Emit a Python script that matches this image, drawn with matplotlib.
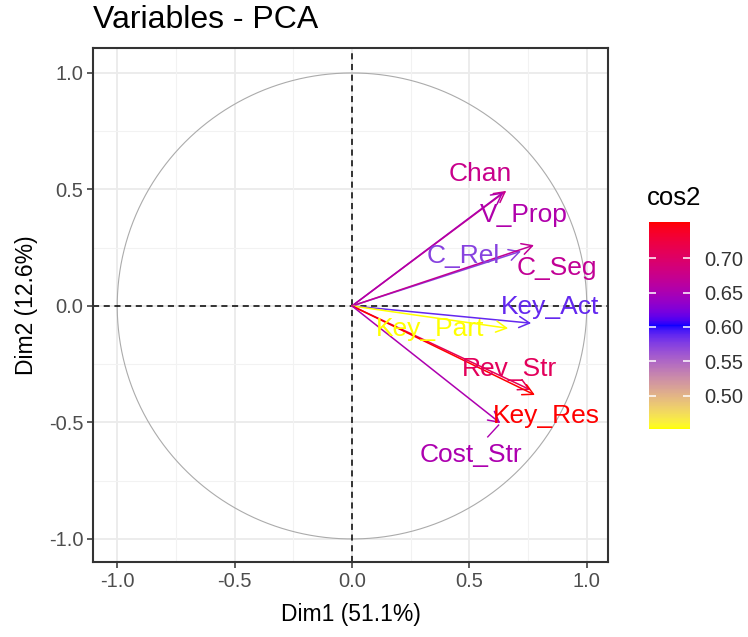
import numpy as np
import matplotlib
matplotlib.use("Agg")
import matplotlib.pyplot as plt
from matplotlib.colors import ListedColormap, Normalize
from matplotlib.cm import ScalarMappable

plt.rcParams['font.family'] = ['Liberation Sans', 'DejaVu Sans']

# coordonnées des variables sur Dim1 / Dim2
variables = ["Chan", "V_Prop", "C_Rel", "C_Seg", "Key_Act", "Key_Part", "Rev_Str", "Key_Res", "Cost_Str"]
dim1 = np.array([0.657, 0.645, 0.720, 0.775, 0.763, 0.665, 0.760, 0.779, 0.632])
dim2 = np.array([0.494, 0.488, 0.235, 0.261, -0.074, -0.096, -0.360, -0.382, -0.503])
cos2 = dim1**2 + dim2**2

cb_ticks = [0.50, 0.55, 0.60, 0.65, 0.70]
axis_ticks = [-1.0, -0.5, 0.0, 0.5, 1.0]

# position des étiquettes (placement type ggrepel)
label_pos = [(0.545, 0.567), (0.730, 0.390), (0.474, 0.215), (0.872, 0.162),
             (0.843, -0.003), (0.332, -0.099), (0.669, -0.270), (0.830, -0.472),
             (0.507, -0.640)]


# gradient jaune -> bleu -> rouge interpolé dans l'espace Lab (comme ggplot)
white = np.array([0.95047, 1.0, 1.08883])
M = np.array([[0.4124, 0.3576, 0.1805], [0.2126, 0.7152, 0.0722], [0.0193, 0.1192, 0.9505]])


def rgb2lab(rgb):
    c = np.array(rgb, dtype=float)
    lin = np.where(c <= 0.04045, c / 12.92, ((c + 0.055) / 1.055) ** 2.4)
    xyz = M @ lin / white
    f = np.where(xyz > 0.008856, np.cbrt(xyz), 7.787 * xyz + 16 / 116)
    return np.array([116 * f[1] - 16, 500 * (f[0] - f[1]), 200 * (f[1] - f[2])])


def lab2rgb(lab):
    fy = (lab[0] + 16) / 116
    f = np.array([fy + lab[1] / 500, fy, fy - lab[2] / 200])
    xyz = np.where(f**3 > 0.008856, f**3, (f - 16 / 116) / 7.787) * white
    lin = np.linalg.solve(M, xyz)
    lin = np.clip(lin, 0, 1)
    c = np.where(lin <= 0.0031308, 12.92 * lin, 1.055 * lin ** (1 / 2.4) - 0.055)
    return np.clip(c, 0, 1)


stops = [rgb2lab(c) for c in [(1, 1, 0), (0, 0, 1), (1, 0, 0)]]
cols = []
for t in np.linspace(0, 1, 256):
    if t < 0.5:
        s = t * 2
        lab = stops[0] * (1 - s) + stops[1] * s
    else:
        s = (t - 0.5) * 2
        lab = stops[1] * (1 - s) + stops[2] * s
    cols.append(lab2rgb(lab))
cmap = ListedColormap(cols)
norm = Normalize(vmin=cos2.min(), vmax=cos2.max())

fig = plt.figure(figsize=(7.48, 6.37), dpi=100)
ax = fig.add_axes([0.1247, 0.1177, 0.6877, 0.8069])

# grille
for v in [-1.0, -0.5, 0.0, 0.5, 1.0]:
    ax.axvline(v, color='#EBEBEB', lw=1.3, zorder=0)
    ax.axhline(v, color='#EBEBEB', lw=1.3, zorder=0)
for v in [-0.75, -0.25, 0.25, 0.75]:
    ax.axvline(v, color='#F2F2F2', lw=0.8, zorder=0)
    ax.axhline(v, color='#F2F2F2', lw=0.8, zorder=0)

theta = np.linspace(0, 2 * np.pi, 400)
ax.plot(np.cos(theta), np.sin(theta), color='#ABABAB', lw=0.8, zorder=1)
ax.axhline(0, color='black', ls=(0, (4, 3)), lw=1.1, zorder=2)
ax.axvline(0, color='black', ls=(0, (4, 3)), lw=1.1, zorder=2)

for i, name in enumerate(variables):
    c = cmap(norm(cos2[i]))
    ax.annotate('', xy=(dim1[i], dim2[i]), xytext=(0, 0),
                arrowprops=dict(arrowstyle='->,head_length=0.75,head_width=0.4',
                                color=c, lw=1.1, shrinkA=0, shrinkB=0), zorder=3)

for i, name in enumerate(variables):
    c = cmap(norm(cos2[i]))
    lx, ly = label_pos[i]
    ax.text(lx, ly, name, color=c, fontsize=19, ha='center', va='center', zorder=4)

# segment de rappel pour Cost_Str
i = variables.index("Cost_Str")
lx, ly = label_pos[i]
t0, t1 = 0.57, 0.94
ax.plot([lx + t0 * (dim1[i] - lx), lx + t1 * (dim1[i] - lx)],
        [ly + t0 * (dim2[i] - ly), ly + t1 * (dim2[i] - ly)],
        color=cmap(norm(cos2[i])), lw=1.0, zorder=3)

ax.set_xlim(-1.102, 1.089)
ax.set_ylim(-1.099, 1.107)
ax.set_xticks(axis_ticks)
ax.set_yticks(axis_ticks)
ax.set_xticklabels([f"{v:.1f}" for v in axis_ticks])
ax.set_yticklabels([f"{v:.1f}" for v in axis_ticks])
ax.tick_params(length=4, width=1.1, color='#333333', labelsize=14.5, labelcolor='#4D4D4D', pad=3)
for sp in ax.spines.values():
    sp.set_color('#333333')
    sp.set_linewidth(1.5)

ax.set_xlabel('Dim1 (51.1%)', fontsize=16.5, labelpad=9)
ax.set_ylabel('Dim2 (12.6%)', fontsize=16.5, labelpad=8)
fig.text(93 / 748, 1 - 20 / 637, 'Variables - PCA', fontsize=23, va='center', ha='left')

# barre de couleur
cax = fig.add_axes([649 / 748, (637 - 429) / 637, 41 / 748, 207 / 637])
cb = fig.colorbar(ScalarMappable(norm=norm, cmap=cmap), cax=cax)
cb.outline.set_visible(False)
cb.set_ticks(cb_ticks)
cb.set_ticklabels([f"{v:.2f}" for v in cb_ticks])
cax.tick_params(direction='in', color='white', length=5, width=1.1, left=True, right=True,
                labelsize=14.5, labelcolor='#333333', pad=10)
fig.text(647 / 748, 1 - 198 / 637, 'cos2', fontsize=18.5, va='center', ha='left')

fig.savefig('out.png', dpi=100)
